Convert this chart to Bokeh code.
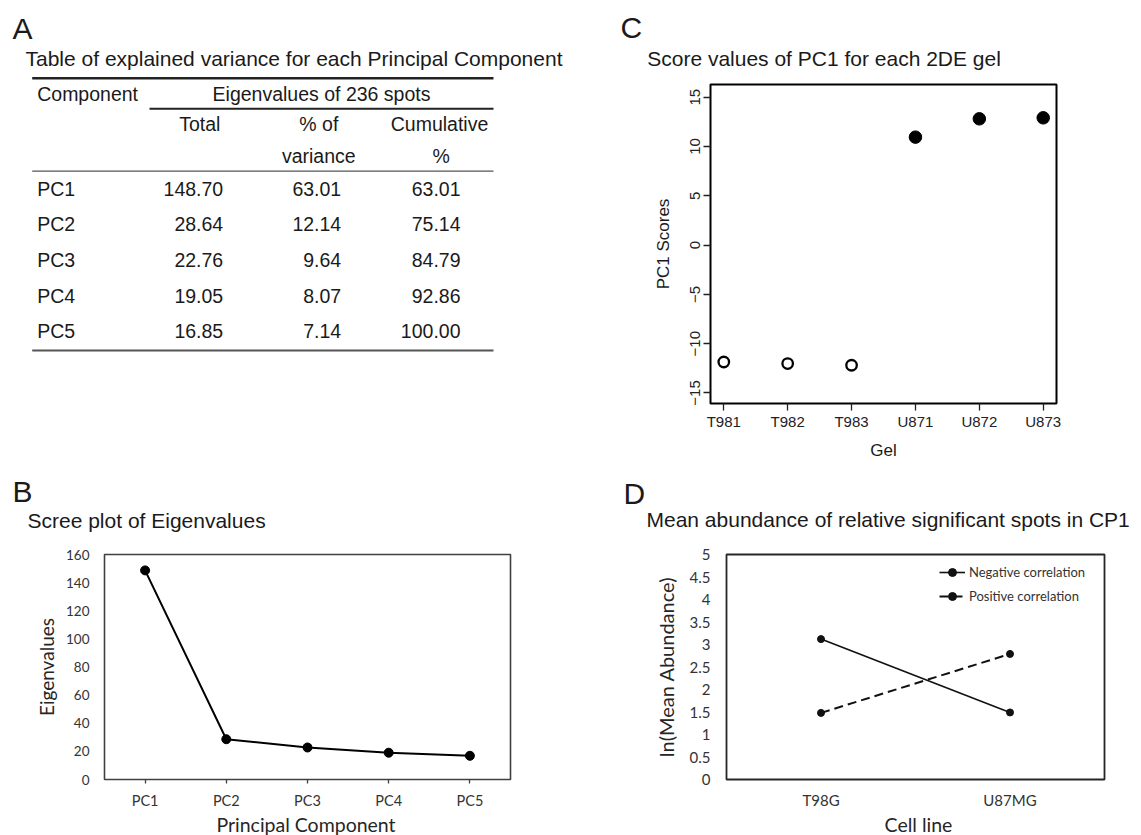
from bokeh.plotting import figure
from bokeh.models import (Range1d, FactorRange, FixedTicker, Legend, LegendItem,
                          NumeralTickFormatter, ColumnDataSource)
from bokeh.layouts import row, column
from bokeh.embed import file_html
from bokeh.resources import INLINE
from bokeh.core.properties import value

# ---------------- data ----------------
components = ["PC1", "PC2", "PC3", "PC4", "PC5"]
eigen_total = [148.70, 28.64, 22.76, 19.05, 16.85]
pct_variance = [63.01, 12.14, 9.64, 8.07, 7.14]
cumulative_pct = [63.01, 75.14, 84.79, 92.86, 100.00]

gels = ["T981", "T982", "T983", "U871", "U872", "U873"]
gel_group = ["T98G", "T98G", "T98G", "U87MG", "U87MG", "U87MG"]
pc1_scores = [-11.86, -12.02, -12.19, 10.95, 12.81, 12.91]

cell_lines = ["T98G", "U87MG"]
negative_corr = [3.12, 1.49]
positive_corr = [1.48, 2.79]

y_ticks_B = [0, 20, 40, 60, 80, 100, 120, 140, 160]
y_ticks_C = [-15, -10, -5, 0, 5, 10, 15]
y_ticks_D = [0, 0.5, 1, 1.5, 2, 2.5, 3, 3.5, 4, 4.5, 5]

ARIAL = "Liberation Sans"
CAL = "Lato"
INK = "#1a1a1a"


def base_fig(**kw):
    p = figure(output_backend="svg", toolbar_location=None, **kw)
    p.background_fill_color = "white"
    p.border_fill_color = "white"
    p.grid.visible = False
    return p


def text_fig(x0, x1, y0, y1, **kw):
    """A plain canvas (no axes) whose data units are page pixels."""
    p = base_fig(width=x1 - x0, height=y1 - y0, x_range=Range1d(x0, x1),
                 y_range=Range1d(y1, y0), x_axis_type=None, y_axis_type=None,
                 min_border=0, **kw)
    p.outline_line_color = None
    return p


def put(p, x, y, text, size, font=ARIAL, align="left", baseline="middle", color=INK):
    p.text(x=[x], y=[y], text=[text], text_font=value(font), text_font_size=size,
           text_align=align, text_baseline=baseline, text_color=color)


# ---------------- headers ----------------
hA = text_fig(0, 580, 0, 80)
put(hA, 12, 27.5, "A", "30px")
put(hA, 25, 57.5, "Table of explained variance for each Principal Component", "21px")
hA.segment(x0=[31.7], x1=[493], y0=[77.7], y1=[77.7], line_color="#222", line_width=2.4)

hC = text_fig(580, 1141, 0, 80)
put(hC, 620, 26.7, "C", "30px")
put(hC, 646.7, 58.3, "Score values of PC1 for each 2DE gel", "21px")

hB = text_fig(0, 580, 470, 540)
put(hB, 12, 491, "B", "30px")
put(hB, 27, 520, "Scree plot of Eigenvalues", "21px")

hD = text_fig(580, 1141, 470, 540)
put(hD, 623, 493, "D", "30px")
put(hD, 646, 519.3, "Mean abundance of relative significant spots in CP1", "21px")

# ---------------- footers (x-axis titles of B and D) ----------------
fB = text_fig(0, 580, 813, 835)
put(fB, 305.5, 823.5, "Principal Component", "19.5px", font=CAL, align="center", color="#262626")
fD = text_fig(580, 1141, 813, 835)
put(fD, 918, 823.5, "Cell line", "19.5px", font=CAL, align="center", color="#262626")

# ---------------- Panel A : table ----------------
tA = base_fig(width=580, height=390, x_range=Range1d(0, 580), y_range=Range1d(403, 84),
              x_axis_type=None, y_axis_type=None, min_border_left=0, min_border_right=0,
              min_border_top=4, min_border_bottom=67)
tA.outline_line_color = None

tA.segment(x0=[149], x1=[493], y0=[108.3], y1=[108.3], line_color="#222", line_width=2)
tA.segment(x0=[31.7], x1=[493], y0=[170.7], y1=[170.7], line_color="#555", line_width=1.3)
tA.segment(x0=[31.7], x1=[493], y0=[350], y1=[350], line_color="#555", line_width=2)

tsize = "19.5px"
put(tA, 36.7, 93, "Component", tsize)
put(tA, 321, 93, "Eigenvalues of 236 spots", tsize, align="center")
for x, y, t in ((199.3, 123.3, "Total"), (318.3, 123.3, "% of"), (439, 123.3, "Cumulative"),
                (318.3, 155, "variance"), (440.7, 155, "%")):
    put(tA, x, y, t, tsize, align="center")

row_y = [188.3 + i * 35.6 for i in range(len(components))]
tab = ColumnDataSource(dict(
    y=row_y, name=components,
    c1=[f"{v:.2f}" for v in eigen_total],
    c2=[f"{v:.2f}" for v in pct_variance],
    c3=[f"{v:.2f}" for v in cumulative_pct],
    x0=[36.7] * len(components), x1=[222.7] * len(components),
    x2=[340.7] * len(components), x3=[460] * len(components)))
tA.text(x="x0", y="y", text="name", source=tab, text_font=value(ARIAL), text_font_size=tsize,
        text_baseline="middle", text_color=INK)
for xc, col in (("x1", "c1"), ("x2", "c2"), ("x3", "c3")):
    tA.text(x=xc, y="y", text=col, source=tab, text_font=value(ARIAL), text_font_size=tsize,
            text_baseline="middle", text_align="right", text_color=INK)

# ---------------- Panel C : PC1 scores ----------------
x_pos = [i + 1 for i in range(len(gels))]
pC = base_fig(width=561, height=390, x_range=Range1d(0.792, 6.208),
              y_range=Range1d(-16.07, 16.29), min_border_left=130, min_border_right=85,
              min_border_top=4, min_border_bottom=67)
pC.outline_line_color = "black"
pC.outline_line_width = 2

open_x = [x for x, g in zip(x_pos, gel_group) if g == cell_lines[0]]
open_y = [s for s, g in zip(pc1_scores, gel_group) if g == cell_lines[0]]
fill_x = [x for x, g in zip(x_pos, gel_group) if g == cell_lines[1]]
fill_y = [s for s, g in zip(pc1_scores, gel_group) if g == cell_lines[1]]
pC.scatter(open_x, open_y, size=10.5, fill_color=None, line_color="black", line_width=2.3)
pC.scatter(fill_x, fill_y, size=12.5, color="black")

pC.yaxis.ticker = FixedTicker(ticks=y_ticks_C)
pC.yaxis.major_label_orientation = "vertical"
pC.xaxis.ticker = FixedTicker(ticks=x_pos)
pC.xaxis.major_label_overrides = {x: g for x, g in zip(x_pos, gels)}
for ax in (pC.xaxis, pC.yaxis):
    ax.axis_line_color = None
    ax.major_tick_in = 0
    ax.major_tick_out = 7
    ax.major_tick_line_color = "#222"
    ax.major_tick_line_width = 1.3
    ax.minor_tick_line_color = None
    ax.major_label_text_font = ARIAL
    ax.major_label_text_font_size = "15px"
    ax.major_label_text_color = "#222"
    ax.axis_label_text_font = ARIAL
    ax.axis_label_text_font_size = "17px"
    ax.axis_label_text_font_style = "normal"
    ax.axis_label_text_color = INK
pC.yaxis.major_label_standoff = 3
pC.xaxis.major_label_standoff = 2
pC.xaxis.axis_label = "Gel"
pC.xaxis.axis_label_standoff = 8
pC.yaxis.axis_label = "PC1 Scores"
pC.yaxis.axis_label_standoff = 15

# ---------------- Panel B : scree plot ----------------
pB = base_fig(width=580, height=273, x_range=FactorRange(factors=components),
              y_range=Range1d(0, 160), min_border_left=104, min_border_right=70,
              min_border_top=14, min_border_bottom=34)
pB.outline_line_color = "#404040"
pB.outline_line_width = 1.6
pB.line(components, eigen_total, line_color="black", line_width=2)
pB.scatter(components, eigen_total, size=9, color="black")

pB.yaxis.ticker = FixedTicker(ticks=y_ticks_B)
pB.yaxis.axis_line_color = None
pB.yaxis.major_tick_line_color = None
pB.yaxis.minor_tick_line_color = None
pB.yaxis.major_tick_out = 0
pB.yaxis.major_tick_in = 0
pB.yaxis.major_label_standoff = 15
pB.xaxis.axis_line_color = None
pB.xaxis.major_tick_in = 0
pB.xaxis.major_tick_out = 4
pB.xaxis.major_tick_line_color = "#404040"
pB.xaxis.major_tick_line_width = 1.3
pB.xaxis.major_label_standoff = 8
pB.yaxis.axis_label = "Eigenvalues"
pB.yaxis.axis_label_standoff = 5
for ax in (pB.xaxis, pB.yaxis):
    ax.major_label_text_font = CAL
    ax.major_label_text_color = "#333333"
    ax.axis_label_text_font = CAL
    ax.axis_label_text_font_size = "19px"
    ax.axis_label_text_font_style = "normal"
    ax.axis_label_text_color = "#262626"
pB.xaxis.major_label_text_font_size = "14.5px"
pB.yaxis.major_label_text_font_size = "13.5px"

# ---------------- Panel D : mean abundance ----------------
pD = base_fig(width=561, height=273, x_range=FactorRange(factors=cell_lines),
              y_range=Range1d(0, 5), min_border_left=146, min_border_right=37,
              min_border_top=14, min_border_bottom=34)
pD.outline_line_color = "#262626"
pD.outline_line_width = 1.8
r1 = pD.line(cell_lines, negative_corr, line_color="#111", line_width=1.6)
r2 = pD.scatter(cell_lines, negative_corr, size=7, color="#111")
r3 = pD.line(cell_lines, positive_corr, line_color="#111", line_width=2, line_dash="9 5")
r4 = pD.scatter(cell_lines, positive_corr, size=7, color="#111")

legend = Legend(items=[LegendItem(label="Negative correlation", renderers=[r1, r2]),
                       LegendItem(label="Positive correlation", renderers=[r3, r4])],
                location=(213, 173), border_line_color=None, background_fill_alpha=0,
                padding=0, margin=0, glyph_width=26, glyph_height=20, label_height=20,
                label_standoff=4, spacing=4, label_text_font=CAL,
                label_text_font_size="13px", label_text_color="#333333")
pD.add_layout(legend)

pD.yaxis.ticker = FixedTicker(ticks=y_ticks_D)
pD.yaxis.formatter = NumeralTickFormatter(format="0.[0]")
pD.yaxis.major_label_standoff = 16
pD.xaxis.major_label_standoff = 11
pD.yaxis.axis_label = "ln(Mean Abundance)"
pD.yaxis.axis_label_standoff = 9
for ax in (pD.xaxis, pD.yaxis):
    ax.axis_line_color = None
    ax.major_tick_line_color = None
    ax.major_tick_out = 0
    ax.major_tick_in = 0
    ax.minor_tick_line_color = None
    ax.major_label_text_font = CAL
    ax.major_label_text_font_size = "15px"
    ax.major_label_text_color = "#333333"
    ax.axis_label_text_font = CAL
    ax.axis_label_text_font_size = "20px"
    ax.axis_label_text_font_style = "normal"
    ax.axis_label_text_color = "#262626"

layout = column(row(hA, hC), row(tA, pC), row(hB, hD), row(pB, pD), row(fB, fD))
open("out.html", "w").write(file_html(layout, INLINE))
